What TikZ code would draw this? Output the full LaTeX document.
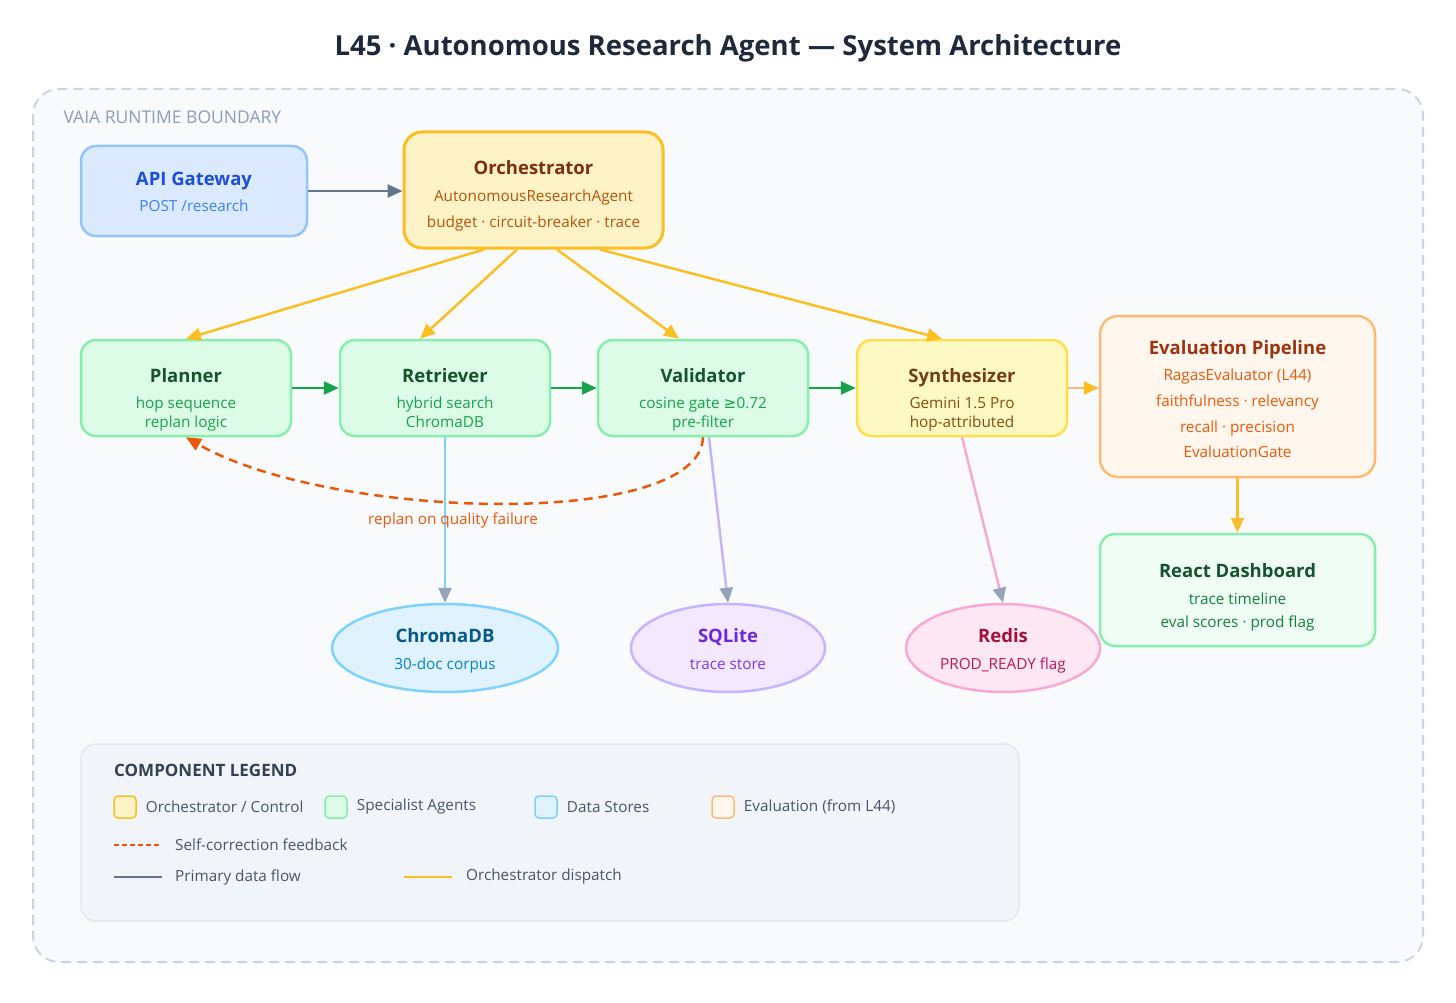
\documentclass[tikz,border=0pt]{standalone}
\usepackage{fontspec}
\setmainfont{Open Sans}
\newfontfamily\symfont{DejaVu Sans}
\usetikzlibrary{arrows.meta,positioning,shapes.geometric}

\definecolor{bgfill}{HTML}{F8FAFC}
\definecolor{bndline}{HTML}{CBD5E1}
\definecolor{bndtext}{HTML}{8E9DB3}
\definecolor{titletext}{HTML}{1E293B}
\definecolor{apifill}{HTML}{DBEAFE}
\definecolor{apiline}{HTML}{93C5FD}
\definecolor{apittl}{HTML}{1D4ED8}
\definecolor{apisub}{HTML}{3B82F6}
\definecolor{orchfill}{HTML}{FEF3C7}
\definecolor{orchline}{HTML}{FBBF24}
\definecolor{orchttl}{HTML}{7C2D12}
\definecolor{orchsub}{HTML}{B45309}
\definecolor{agentfill}{HTML}{DCFCE7}
\definecolor{agentline}{HTML}{86EFAC}
\definecolor{agentttl}{HTML}{14532D}
\definecolor{agentsub}{HTML}{16A34A}
\definecolor{synfill}{HTML}{FEF9C3}
\definecolor{synline}{HTML}{FDE047}
\definecolor{synttl}{HTML}{713F12}
\definecolor{synsub}{HTML}{854D0E}
\definecolor{evalfill}{HTML}{FFF7ED}
\definecolor{evalline}{HTML}{FDBA74}
\definecolor{evalttl}{HTML}{9A3412}
\definecolor{evalsub}{HTML}{EA580C}
\definecolor{dashfill}{HTML}{F0FDF4}
\definecolor{dashsub}{HTML}{15803D}
\definecolor{chromafill}{HTML}{E0F2FE}
\definecolor{chromaline}{HTML}{7DD3FC}
\definecolor{chromattl}{HTML}{075985}
\definecolor{chromasub}{HTML}{0284C7}
\definecolor{sqlfill}{HTML}{F3E8FF}
\definecolor{sqlline}{HTML}{C4B5FD}
\definecolor{sqlttl}{HTML}{6D28D9}
\definecolor{sqlsub}{HTML}{7C3AED}
\definecolor{redisfill}{HTML}{FCE7F3}
\definecolor{redisline}{HTML}{F9A8D4}
\definecolor{redisttl}{HTML}{9F1239}
\definecolor{redissub}{HTML}{BE185D}
\definecolor{flowcol}{HTML}{64748B}
\definecolor{storehead}{HTML}{94A3B8}
\definecolor{greenflow}{HTML}{16A34A}
\definecolor{feedcol}{HTML}{EA580C}
\definecolor{legfill}{HTML}{F1F5F9}
\definecolor{legline}{HTML}{E2E8F0}
\definecolor{legttl}{HTML}{334155}
\definecolor{legtxt}{HTML}{475569}

\newcommand{\ttl}[2]{{\color{#1}\bfseries\fontsize{18.5}{22}\selectfont #2}}
\newcommand{\subfont}{\fontsize{15.3}{19}\selectfont}

\tikzset{
  box/.style={draw, rounded corners=15pt, line width=2.5pt, inner sep=0pt},
  agent/.style={box, fill=agentfill, draw=agentline, minimum width=210pt, minimum height=96pt},
  store/.style={ellipse, draw, line width=2.5pt, inner sep=0pt, minimum height=88pt},
  txt/.style={align=center, inner sep=0pt, font=\subfont},
  tip/.style={-{Triangle[length=15pt,width=13pt]}},
  dispatch/.style={tip, draw=orchline, line width=2.5pt},
  flow/.style={tip, draw=flowcol, line width=2.5pt},
  handoff/.style={tip, draw=greenflow, line width=2.5pt},
  persist/.style={-{Triangle[length=15pt,width=13pt,color=storehead]}, line width=2.5pt},
  feedback/.style={draw=feedcol, line width=2.5pt, dash pattern=on 9pt off 6pt},
  swatch/.style={draw, rounded corners=4pt, line width=1.5pt, minimum size=22pt, inner sep=0pt},
  legtext/.style={anchor=west, inner sep=0pt, text=legtxt, font=\fontsize{15.3}{18}\selectfont}
}

\begin{document}
\begin{tikzpicture}[x=1pt, y=-1pt]
\useasboundingbox[fill=white] (0,0) rectangle (1456,1003);

\node[font=\bfseries\fontsize{27.5}{32}\selectfont, text=titletext] (title) at (728,48)
  {L45 · Autonomous Research Agent — System Architecture};

% runtime boundary
\draw[fill=bgfill, draw=bndline, line width=2pt, dash pattern=on 10pt off 6pt, rounded corners=26pt]
  (33,89) rectangle (1423,962);
\node[anchor=west, text=bndtext, font=\fontsize{17.5}{20}\selectfont] (bndlabel) at (60,117) {VAIA RUNTIME BOUNDARY};

% entry and control
\node[box, fill=apifill, draw=apiline, minimum width=226pt, minimum height=90pt] (api) at (194,191) {};
\node[txt, text=apisub, below=27pt of api.north] (apiT) {\ttl{apittl}{API Gateway}\\[7pt]POST /research};

\node[box, fill=orchfill, draw=orchline, line width=3pt, rounded corners=18pt,
      minimum width=259pt, minimum height=116pt] (orch) at (533.5,190) {};
\node[txt, text=orchsub, font=\fontsize{15.3}{26}\selectfont, below=29.5pt of orch.north] (orchT)
  {\ttl{orchttl}{Orchestrator}\\[1pt]AutonomousResearchAgent\\budget · circuit-breaker · trace};

% specialist agents
\node[agent] (planner) at (186,388) {};
\node[agent, right=46.5pt of planner] (retriever) {};
\node[agent, right=45.5pt of retriever] (validator) {};
\node[agent, fill=synfill, draw=synline, right=46.5pt of validator] (synth) {};

\node[txt, text=agentsub, below=29pt of planner.north] (plannerT) {\ttl{agentttl}{Planner}\\[7pt]hop sequence\\replan logic};
\node[txt, text=agentsub, below=29pt of retriever.north] (retrieverT) {\ttl{agentttl}{Retriever}\\[7pt]hybrid search\\ChromaDB};
\node[txt, text=agentsub, below=29pt of validator.north] (validatorT) {\ttl{agentttl}{Validator}\\[7pt]cosine gate {\symfont ≥}0.72\\pre-filter};
\node[txt, text=synsub, below=29pt of synth.north] (synthT) {\ttl{synttl}{Synthesizer}\\[7pt]Gemini 1.5 Pro\\hop-attributed};

% evaluation
\node[box, fill=evalfill, draw=evalline, rounded corners=18pt, minimum width=275pt, minimum height=161pt] (eval) at (1237.5,396.5) {};
\node[txt, text=evalsub, font=\fontsize{15.3}{25.7}\selectfont, below=25pt of eval.north] (evalT)
  {\ttl{evalttl}{Evaluation Pipeline}\\[1pt]RagasEvaluator (L44)\\faithfulness · relevancy\\recall · precision\\EvaluationGate};

\node[box, fill=dashfill, draw=agentline, minimum width=275pt, minimum height=112pt, below=54.5pt of eval] (dash) {};
\node[txt, text=dashsub, font=\fontsize{15.3}{23}\selectfont, below=30pt of dash.north] (dashT)
  {\ttl{agentttl}{React Dashboard}\\[4pt]trace timeline\\eval scores · prod flag};

% data stores
\node[store, fill=chromafill, draw=chromaline, minimum width=226pt] (chroma) at (445,648) {};
\node[store, fill=sqlfill, draw=sqlline, minimum width=194pt] (sqlite) at (728,648) {};
\node[store, fill=redisfill, draw=redisline, minimum width=194pt] (redis) at (1003,648) {};

\node[txt, text=chromasub, below=25.5pt of chroma.north] (chromaT) {\ttl{chromattl}{ChromaDB}\\[8pt]30-doc corpus};
\node[txt, text=sqlsub, below=25.5pt of sqlite.north] (sqliteT) {\ttl{sqlttl}{SQLite}\\[8pt]trace store};
\node[txt, text=redissub, below=25.5pt of redis.north] (redisT) {\ttl{redisttl}{Redis}\\[8pt]PROD\_READY flag};

% connectors
\draw[flow] (api.east) -- (api.east -| orch.west);

\draw[dispatch] ([xshift=-49.5pt]orch.south) -- (planner.north);
\draw[dispatch] ([xshift=-16.5pt]orch.south) -- ([xshift=-25pt]retriever.north);
\draw[dispatch] ([xshift=23.5pt]orch.south) -- ([xshift=-24pt]validator.north);
\draw[dispatch] ([xshift=66.5pt]orch.south) -- ([xshift=-20pt]synth.north);

\draw[handoff] (planner) -- (retriever);
\draw[handoff] (retriever) -- (validator);
\draw[handoff] (validator) -- (synth);
\draw[-{Triangle[length=15pt,width=13pt,color=orchline]}, draw=evalline, line width=2.5pt] (synth.east) -- (synth.east -| eval.west);
\draw[dispatch, draw=orchline!85!evalline] (eval) -- (dash);

\draw[persist, draw=chromaline] (retriever) -- (chroma);
\draw[persist, draw=sqlline] ([xshift=6pt]validator.south) -- (sqlite.north);
\draw[persist, draw=redisline] (synth.south) -- (redis.north);

\draw[feedback, -{Triangle[length=15pt,width=13pt,fill=feedcol]}] (validator.south) .. controls (700,530) and (330,520) .. (planner.south);
\node[text=feedcol, font=\subfont] (replan) at (453,520) {replan on quality failure};

% legend
\node[draw=legline, fill=legfill, line width=1.5pt, rounded corners=15pt, minimum width=938pt, minimum height=177pt] (legend) at (550,832.5) {};
\node[anchor=west, inner sep=0pt, text=legttl, font=\bfseries\fontsize{17}{20}\selectfont] (legendT) at (114,770) {COMPONENT LEGEND};

\node[swatch, fill=orchfill, draw=orchline] (swOrch) at (125,807) {};
\node[legtext, right=9pt of swOrch] (lgOrch) {Orchestrator / Control};
\node[swatch, fill=agentfill, draw=agentline] (swAgent) at (336,807) {};
\node[legtext, right=9pt of swAgent] (lgAgent) {Specialist Agents};
\node[swatch, fill=chromafill, draw=chromaline] (swStore) at (546,807) {};
\node[legtext, right=9pt of swStore] (lgStore) {Data Stores};
\node[swatch, fill=evalfill, draw=evalline] (swEval) at (723,807) {};
\node[legtext, right=9pt of swEval] (lgEval) {Evaluation (from L44)};

\coordinate (fbA) at (114,845);
\coordinate (fbB) at (160,845);
\draw[draw=feedcol, line width=2.5pt, dash pattern=on 5pt off 3pt] (fbA) -- (fbB);
\node[legtext] (lgFeed) at (175,845) {Self-correction feedback};

\coordinate (pfA) at (114,877);
\coordinate (pfB) at (162,877);
\draw[draw=flowcol, line width=2.5pt] (pfA) -- (pfB);
\node[legtext] (lgFlow) at (175,877) {Primary data flow};

\coordinate (odA) at (404,877);
\coordinate (odB) at (452,877);
\draw[draw=orchline, line width=2.5pt] (odA) -- (odB);
\node[legtext] (lgDispatch) at (466,877) {Orchestrator dispatch};
\end{tikzpicture}
\end{document}
